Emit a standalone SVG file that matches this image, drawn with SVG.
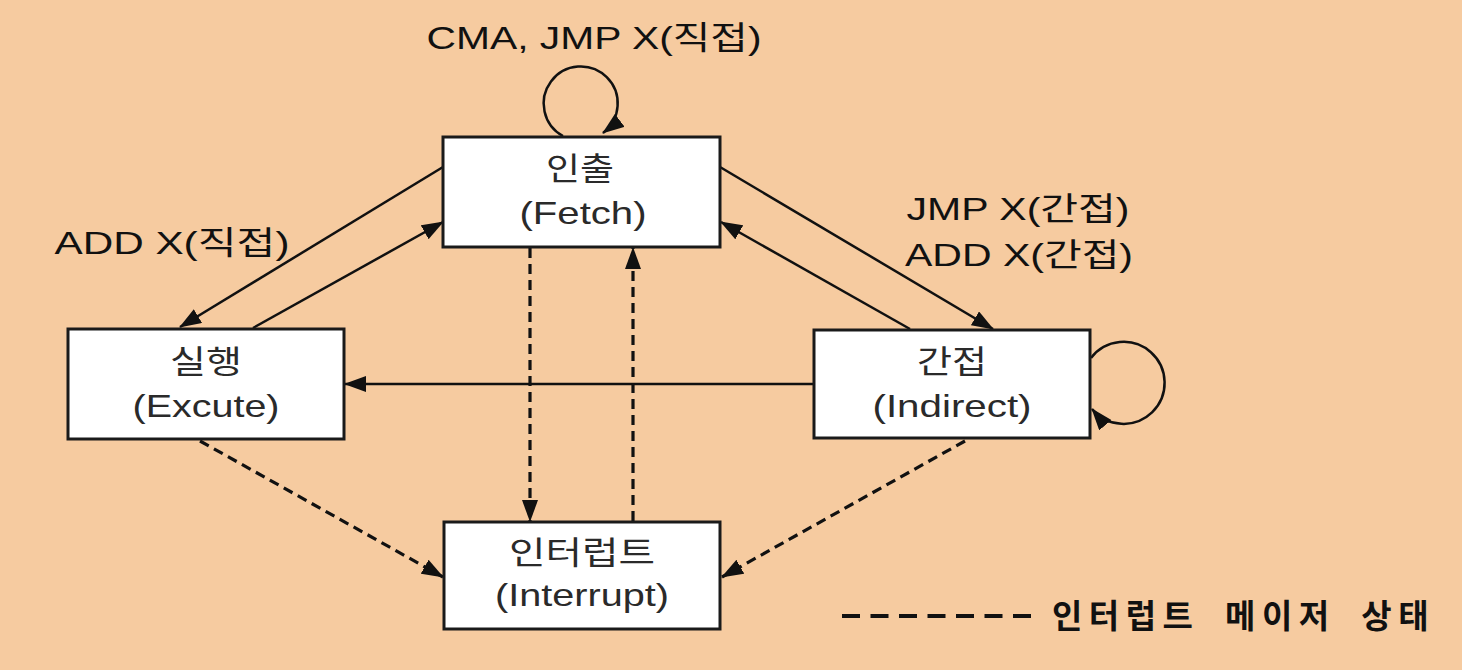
<svg xmlns="http://www.w3.org/2000/svg" width="1462" height="670" viewBox="0 0 1462 670">
<defs>
<style>
.box{fill:#fff;stroke:#1a1a1a;stroke-width:3}
.nt{font-family:"Liberation Sans","Noto Sans CJK KR",sans-serif;font-size:32px;fill:#2a2a2a;text-anchor:middle}
.lb{font-family:"Liberation Sans","Noto Sans CJK KR",sans-serif;font-size:32px;fill:#111;text-anchor:middle}
.e{fill:none;stroke:#111;stroke-width:2.5}
.d{fill:none;stroke:#111;stroke-width:3.2;stroke-dasharray:10 6}
</style>
<marker id="ah" viewBox="0 0 22 16" refX="21" refY="8" markerWidth="22" markerHeight="16" markerUnits="userSpaceOnUse" orient="auto">
<path d="M0,0 L22,8 L0,16 Z" fill="#111"/>
</marker>
</defs>
<rect width="1462" height="670" fill="#F6CBA0"/>
<g id="connectors">
<path class="e" d="M563 136 A37 37 0 1 1 603 133" marker-end="url(#ah)"/>
<line class="e" x1="443" y1="167" x2="180" y2="327" marker-end="url(#ah)"/>
<line class="e" x1="253" y1="328" x2="443" y2="222" marker-end="url(#ah)"/>
<line class="e" x1="720" y1="167" x2="993" y2="329" marker-end="url(#ah)"/>
<line class="e" x1="910" y1="329" x2="721" y2="222" marker-end="url(#ah)"/>
<line class="e" x1="814" y1="384" x2="345" y2="384" marker-end="url(#ah)"/>
<path class="e" d="M1091 358 A41 41 0 1 1 1092 409" marker-end="url(#ah)"/>
<line class="d" x1="530" y1="248" x2="530" y2="521" marker-end="url(#ah)"/>
<line class="d" x1="633" y1="521" x2="633" y2="248" marker-end="url(#ah)"/>
<line class="d" x1="200" y1="441" x2="443" y2="577" marker-end="url(#ah)"/>
<line class="d" x1="965" y1="441" x2="722" y2="577" marker-end="url(#ah)"/>
</g>
<g id="fetch">
<rect class="box" x="443" y="137" width="277" height="110"/>
<text class="nt" x="580" y="180" textLength="68" lengthAdjust="spacingAndGlyphs">인출</text>
<text class="nt" x="583" y="224" textLength="127" lengthAdjust="spacingAndGlyphs">(Fetch)</text>
</g>
<g id="execute">
<rect class="box" x="68" y="329" width="276" height="110"/>
<text class="nt" x="206" y="373" textLength="72" lengthAdjust="spacingAndGlyphs">실행</text>
<text class="nt" x="206" y="417" textLength="147" lengthAdjust="spacingAndGlyphs">(Excute)</text>
</g>
<g id="indirect">
<rect class="box" x="814" y="330" width="276" height="108"/>
<text class="nt" x="952" y="373" textLength="70" lengthAdjust="spacingAndGlyphs">간접</text>
<text class="nt" x="952" y="417" textLength="159" lengthAdjust="spacingAndGlyphs">(Indirect)</text>
</g>
<g id="interrupt">
<rect class="box" x="444" y="522" width="276" height="107"/>
<text class="nt" x="582" y="564" textLength="146" lengthAdjust="spacingAndGlyphs">인터럽트</text>
<text class="nt" x="582" y="606" textLength="174" lengthAdjust="spacingAndGlyphs">(Interrupt)</text>
</g>
<g id="labels">
<text class="lb" x="594" y="49" textLength="335" lengthAdjust="spacingAndGlyphs">CMA, JMP X(직접)</text>
<text class="lb" x="172" y="254" textLength="235" lengthAdjust="spacingAndGlyphs">ADD X(직접)</text>
<text class="lb" x="1018" y="220" textLength="223" lengthAdjust="spacingAndGlyphs">JMP X(간접)</text>
<text class="lb" x="1019" y="266" textLength="228" lengthAdjust="spacingAndGlyphs">ADD X(간접)</text>
</g>
<g id="legend">
<line x1="842" y1="616" x2="1031" y2="616" stroke="#111" stroke-width="4" stroke-dasharray="18 10.5"/>
<text x="1052" y="628" font-family="Liberation Sans,Noto Sans CJK KR,sans-serif" font-size="33" font-weight="bold" fill="#111" letter-spacing="6.5" word-spacing="10">인터럽트 메이저 상태</text>
</g>
</svg>
